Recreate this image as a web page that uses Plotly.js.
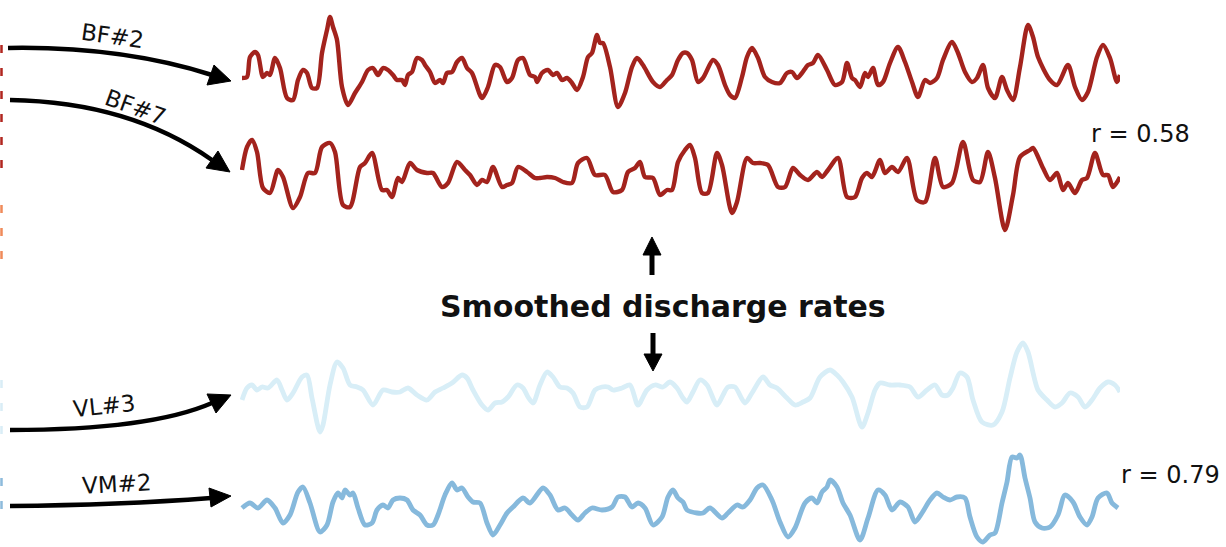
<!DOCTYPE html>
<html>
<head>
<meta charset="utf-8">
<script src="https://cdn.plot.ly/plotly-3.0.1.min.js"></script>
<style>html,body{margin:0;padding:0;background:#fff;}#chart{width:1226px;height:547px;}</style>
</head>
<body>
<div id="chart"></div>
<script>
// ---- Data: smoothed discharge rates (arbitrary units) vs time (samples) ----
const tBF2 = [2,7,10,15,18,23,27,30,35,40,47,53,58,63,67,72,77,82,87,90,93,97,102,108,115,122,128,133,138,143,148,153,157,162,165,168,172,177,182,185,190,195,200,203,207,212,217,222,227,232,242,248,255,260,267,272,278,283,290,295,297,302,308,313,317,322,327,332,337,343,348,352,357,360,363,370,378,385,392,397,403,413,420,427,432,438,443,447,452,458,463,473,478,485,490,495,502,507,512,518,525,532,540,547,552,557,562,568,573,578,587,595,602,607,612,615,620,625,628,633,638,643,650,658,665,672,678,685,690,697,703,712,718,725,732,737,743,748,755,762,767,773,780,788,793,798,810,817,828,835,842,848,857,863,870,877,880];
const BF2 = [32,33,53,58,55,33,37,35,52,42,12,10,30,40,37,22,22,57,80,93,83,70,23,5,17,28,40,42,35,42,40,35,30,30,25,35,38,52,50,45,38,27,30,27,37,38,48,52,42,37,12,23,45,43,28,32,50,52,35,33,28,37,40,35,37,30,32,27,20,33,53,57,75,67,67,43,3,17,43,52,45,28,23,30,35,50,57,57,50,28,32,50,45,25,15,12,33,53,62,52,33,28,27,37,38,32,37,45,47,55,40,25,28,47,32,30,23,37,33,42,25,28,47,63,48,28,13,30,27,32,50,68,57,38,28,32,45,22,12,33,20,10,43,85,73,53,30,25,45,23,10,18,53,65,52,28,35];

const tBF7 = [2,7,12,17,23,30,38,43,53,60,68,75,82,90,95,103,110,120,125,132,142,147,152,158,162,170,177,187,193,202,208,217,225,230,237,242,247,253,262,267,272,278,287,295,300,307,315,323,332,338,347,355,365,373,382,388,395,400,405,413,420,427,432,438,445,450,455,462,468,477,482,492,497,507,513,520,528,538,545,553,560,568,577,582,588,598,607,615,622,627,632,640,645,652,658,667,677,685,695,703,712,723,733,740,748,755,765,773,780,790,793,803,810,817,823,828,835,842,847,855,863,868,873,880];
const BF7 = [65,88,95,83,47,42,65,58,27,38,62,62,88,92,83,30,28,68,72,82,45,45,38,57,53,72,65,62,62,48,52,73,65,60,50,55,53,68,48,50,52,68,63,57,57,58,57,53,52,72,77,60,60,43,45,63,67,73,58,57,40,45,45,73,85,90,77,42,42,82,70,22,33,77,72,72,70,48,48,67,60,55,63,58,65,77,38,38,57,62,58,75,62,68,63,77,35,33,77,48,52,93,55,53,83,57,5,40,78,85,87,67,55,62,45,52,42,55,57,82,60,60,48,58];

const tVL3 = [2,7,12,17,22,28,37,42,47,53,62,67,72,80,83,90,97,103,110,117,123,133,143,152,160,168,177,187,195,203,212,222,227,233,242,248,255,262,268,277,283,288,293,300,307,313,320,327,333,340,347,355,362,368,373,382,390,398,407,415,423,430,437,443,447,453,460,467,477,483,488,495,505,512,523,530,537,547,555,563,570,580,590,597,603,612,622,628,635,640,650,660,670,678,687,695,702,708,713,720,727,733,742,753,762,770,777,783,788,798,807,815,822,830,838,845,852,860,868,875,880];
const VL3 = [40,52,55,50,53,52,60,50,40,47,63,65,42,8,15,55,78,72,55,53,50,35,50,48,48,52,45,40,48,52,57,65,62,50,35,30,37,38,43,55,52,43,37,55,68,63,53,52,47,33,33,50,53,53,50,52,55,35,50,55,53,58,52,42,38,48,60,55,35,45,53,53,37,47,63,55,52,42,35,38,42,63,70,65,58,43,13,27,50,57,55,55,53,43,50,55,45,45,52,67,63,40,18,15,28,62,88,97,88,50,40,33,37,47,43,33,40,52,58,55,48];

const tVM2 = [2,10,18,27,35,43,50,58,63,70,80,87,93,98,102,105,110,113,118,125,132,137,143,148,153,160,167,173,180,187,193,198,205,212,217,222,228,233,240,247,253,260,267,273,283,290,303,310,318,325,332,338,345,352,362,372,378,385,392,398,405,413,422,428,433,438,443,447,457,463,470,482,488,497,503,510,517,523,532,540,548,555,565,572,577,582,587,590,597,603,610,620,628,638,645,652,660,668,675,682,690,697,703,710,717,725,730,737,743,750,755,762,767,772,777,780,785,790,795,802,810,818,825,833,840,847,852,858,867,872,878];
const VM2 = [37,42,37,45,37,22,30,53,58,42,13,20,43,52,47,55,50,52,37,20,22,35,40,37,45,47,45,35,30,20,20,30,50,62,55,57,48,43,42,22,10,20,32,38,47,42,57,50,35,37,30,25,32,37,35,38,48,48,38,42,37,20,28,48,55,47,43,35,32,32,37,27,32,40,38,45,57,60,45,23,8,17,42,47,42,53,58,65,58,42,30,5,27,55,50,35,43,38,23,32,45,52,48,45,48,47,28,8,3,10,12,42,63,88,87,90,67,47,23,17,18,30,50,43,28,20,28,47,52,42,37];

// ---- Layout helpers (pixel -> paper) ----
const W = 1226, H = 547;
const px = x => x / W;
const py = y => 1 - y / H;
const P = (x, y) => (x / W).toFixed(5) + ',' + (1 - y / H).toFixed(5);

const red = '#a3231d';
const blue = '#86b9dc';
const pale = '#d8eef7';

function tr(t, v, color, ax, w) {
  return {x: t, y: v, type: 'scatter', mode: 'lines', xaxis: 'x', yaxis: ax,
          line: {color: color, width: w, shape: 'spline', smoothing: 0.8},
          hoverinfo: 'skip', showlegend: false};
}
const data = [tr(tBF2, BF2, red, 'y', 4.4), tr(tBF7, BF7, red, 'y2', 4.4), tr(tVL3, VL3, pale, 'y3', 4.8), tr(tVM2, VM2, blue, 'y4', 4.8)];

function ydom(bottomPx, topPx) { return [py(bottomPx), py(topPx)]; }
const yax = (dom) => ({domain: dom, range: [0, 100], visible: false, fixedrange: true, anchor: 'x'});

const shapes = [];
function curve(d) {
  shapes.push({type: 'path', xref: 'paper', yref: 'paper', path: d, line: {color: '#000', width: 4.5}, layer: 'above'});
}
function head(a, b, c) {
  shapes.push({type: 'path', xref: 'paper', yref: 'paper', path: 'M' + P(a[0], a[1]) + ' L' + P(b[0], b[1]) + ' L' + P(c[0], c[1]) + ' Z',
               fillcolor: '#000', line: {color: '#000', width: 1}, layer: 'above'});
}
// BF#2
curve('M' + P(8, 48) + ' Q' + P(120, 46) + ' ' + P(212, 75));
head([231, 81], [207, 85], [214, 65]);
// BF#7
curve('M' + P(10, 100) + ' Q' + P(130, 102) + ' ' + P(212, 160));
head([230, 172], [206, 168], [218, 151]);
// VL#3
curve('M' + P(10, 430) + ' Q' + P(150, 430) + ' ' + P(212, 403));
head([231, 395], [216, 413], [207, 394]);
// VM#2
curve('M' + P(10, 506) + ' Q' + P(120, 505) + ' ' + P(211, 498));
head([231, 496], [211, 507], [209, 488]);
// centre up / down arrows
shapes.push({type: 'line', xref: 'paper', yref: 'paper', x0: px(652), x1: px(652), y0: py(275), y1: py(252), line: {color: '#000', width: 5}});
head([652, 237], [643, 255], [661, 255]);
shapes.push({type: 'line', xref: 'paper', yref: 'paper', x0: px(653), x1: px(653), y0: py(333), y1: py(356), line: {color: '#000', width: 5}});
head([653, 371], [644, 354], [662, 354]);
// left-edge dashed markers (cropped)
function dash(y0, y1, color) {
  shapes.push({type: 'line', xref: 'paper', yref: 'paper', x0: px(1.5), x1: px(1.5), y0: py(y0), y1: py(y1), line: {color: color, width: 2.5, dash: '8px,15px'}});
}
dash(45, 180, '#b1261f');
dash(205, 265, '#f08a5a');
dash(380, 440, '#d9edf6');
dash(478, 515, '#8dbbdc');

const font = 'DejaVu Sans, Open Sans, sans-serif';
function lab(text, x, y, ang, opts) {
  return Object.assign({text: text, xref: 'paper', yref: 'paper', x: px(x), y: py(y), showarrow: false,
    textangle: ang, xanchor: 'center', yanchor: 'middle', font: {family: font, size: 23, color: '#111'}}, opts || {});
}
const annotations = [
  lab('BF#2', 112, 36, 8),
  lab('BF#7', 135, 107, 20),
  lab('VL#3', 104, 406, -6),
  lab('VM#2', 116, 484, -3),
  lab('<b>Smoothed discharge rates</b>', 663, 306, 0, {font: {family: font, size: 30, color: '#111'}}),
  lab('r = 0.58', 1089, 134, 0, {xanchor: 'left', font: {family: font, size: 24, color: '#111'}}),
  lab('r = 0.79', 1119, 475, 0, {xanchor: 'left', font: {family: font, size: 24, color: '#111'}})
];

const layout = {
  width: W, height: H, margin: {l: 0, r: 0, t: 0, b: 0},
  paper_bgcolor: '#fff', plot_bgcolor: 'rgba(0,0,0,0)', showlegend: false,
  xaxis: {domain: [px(240), px(1120)], range: [0, 880], visible: false, fixedrange: true},
  yaxis: yax(ydom(110, 10)),
  yaxis2: yax(ydom(235, 135)),
  yaxis3: yax(ydom(440, 340)),
  yaxis4: yax(ydom(545, 445)),
  shapes: shapes, annotations: annotations
};
Plotly.newPlot('chart', data, layout, {staticPlot: true, displayModeBar: false});
</script>
</body>
</html>
